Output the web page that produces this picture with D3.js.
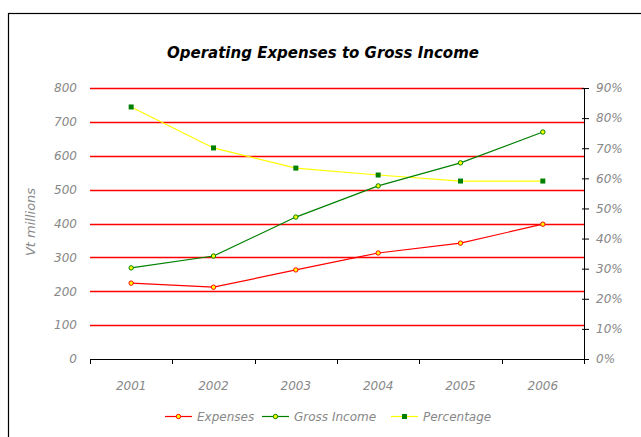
<!DOCTYPE html>
<html>
<head>
<meta charset="utf-8">
<script src="https://cdn.jsdelivr.net/npm/d3@7"></script>
<style>
  body { margin: 0; background: #fff; }
  svg text { font-family: "DejaVu Sans", sans-serif; font-style: italic; }
</style>
</head>
<body>
<svg id="chart" width="641" height="437"></svg>
<script>
var years = ["2001", "2002", "2003", "2004", "2005", "2006"]
var expenses = [224, 212, 263, 313, 342, 398]
var grossIncome = [269, 304, 419, 511, 579, 670]
var percentage = [0.837, 0.701, 0.634, 0.611, 0.591, 0.591]
var leftTicks = [0, 100, 200, 300, 400, 500, 600, 700, 800]
var rightTicks = [0, 0.1, 0.2, 0.3, 0.4, 0.5, 0.6, 0.7, 0.8, 0.9]

var svg = d3.select("#chart")
var plotLeft = 90, plotRight = 584, plotTop = 88, plotBottom = 359

// outer frame (runs off the right and bottom edge)
svg.append("rect")
    .attr("x", 8.5).attr("y", 13.5)
    .attr("width", 700).attr("height", 500)
    .attr("fill", "none").attr("stroke", "#000").attr("stroke-width", 1.2)

svg.append("text")
    .attr("x", 323).attr("y", 58)
    .attr("text-anchor", "middle")
    .attr("font-size", 15).attr("font-weight", "bold")
    .attr("fill", "#000")
    .text("Operating Expenses to Gross Income")

var x = d3.scaleBand().domain(years).range([plotLeft, plotRight])
var y = d3.scaleLinear().domain([0, 800]).range([plotBottom, plotTop])
var y2 = d3.scaleLinear().domain([0, 0.9]).range([plotBottom, plotTop])

// gridlines
svg.append("g").selectAll("line")
    .data(leftTicks.filter(function(d) { return d > 0 }))
    .enter().append("line")
    .attr("x1", plotLeft).attr("x2", plotRight)
    .attr("y1", function(d) { return Math.round(y(d)) + 0.5 })
    .attr("y2", function(d) { return Math.round(y(d)) + 0.5 })
    .attr("stroke", "#ff0000").attr("stroke-width", 1.4)

// left axis labels only
var yAxis = d3.axisLeft(y).tickValues(leftTicks).tickSize(0).tickPadding(13)
var gy = svg.append("g").attr("transform", "translate(" + plotLeft + ",0)").call(yAxis)
gy.select(".domain").remove()
gy.selectAll("text").attr("fill", "#888").attr("font-size", 12)
gy.attr("font-family", null)

// right axis
var y2Axis = d3.axisRight(y2).tickValues(rightTicks).tickSize(5).tickPadding(7)
    .tickFormat(d3.format(".0%"))
var gy2 = svg.append("g").attr("transform", "translate(" + plotRight + ",0)").call(y2Axis)
gy2.select(".domain").attr("stroke", "#000").attr("d", "M0.5," + plotTop + "V" + plotBottom)
gy2.selectAll(".tick line").attr("x1", -2).attr("stroke", "#000")
gy2.selectAll("text").attr("fill", "#888").attr("font-size", 12)
gy2.attr("font-family", null)

// bottom axis with ticks at category boundaries
var gx = svg.append("g").attr("transform", "translate(0," + plotBottom + ")")
gx.append("line").attr("x1", plotLeft).attr("x2", plotRight + 1)
    .attr("y1", 0.5).attr("y2", 0.5).attr("stroke", "#000")
var bounds = years.map(function(d) { return x(d) }).concat([plotRight])
gx.selectAll(".bt").data(bounds).enter().append("line")
    .attr("x1", function(d) { return Math.round(d) + 0.5 })
    .attr("x2", function(d) { return Math.round(d) + 0.5 })
    .attr("y1", 0).attr("y2", 5).attr("stroke", "#000")
gx.selectAll(".xl").data(years).enter().append("text")
    .attr("x", function(d) { return x(d) + x.bandwidth() / 2 })
    .attr("y", 31)
    .attr("text-anchor", "middle")
    .attr("font-size", 12).attr("fill", "#888")
    .text(function(d) { return d })

svg.append("text")
    .attr("transform", "translate(35,222) rotate(-90)")
    .attr("text-anchor", "middle")
    .attr("font-size", 13).attr("fill", "#888")
    .text("Vt millions")

var cx = function(d, i) { return x(years[i]) + x.bandwidth() / 2 }

function drawLine(values, scale, color) {
    svg.append("path")
        .datum(values)
        .attr("fill", "none").attr("stroke", color).attr("stroke-width", 1.2)
        .attr("d", d3.line().x(cx).y(function(d) { return scale(d) }))
}

drawLine(percentage, y2, "#ffff00")
drawLine(grossIncome, y, "#008000")
drawLine(expenses, y, "#ff0000")

svg.append("g").selectAll("rect").data(percentage).enter().append("rect")
    .attr("x", function(d, i) { return cx(d, i) - 2.5 })
    .attr("y", function(d) { return y2(d) - 2.5 })
    .attr("width", 5).attr("height", 5).attr("fill", "#008000")

svg.append("g").selectAll("circle").data(grossIncome).enter().append("circle")
    .attr("cx", cx).attr("cy", function(d) { return y(d) })
    .attr("r", 2.2).attr("fill", "#ffff00").attr("stroke", "#008000").attr("stroke-width", 1)

svg.append("g").selectAll("circle").data(expenses).enter().append("circle")
    .attr("cx", cx).attr("cy", function(d) { return y(d) })
    .attr("r", 2.2).attr("fill", "#ffff00").attr("stroke", "#ff0000").attr("stroke-width", 1)

// legend
var legend = [
    { name: "Expenses", color: "#ff0000", marker: "circle", x: 165 },
    { name: "Gross Income", color: "#008000", marker: "circle", x: 262 },
    { name: "Percentage", color: "#ffff00", marker: "square", x: 391 }
]
var ly = 416
legend.forEach(function(l) {
    var g = svg.append("g")
    g.append("line").attr("x1", l.x).attr("x2", l.x + 27)
        .attr("y1", ly + 0.5).attr("y2", ly + 0.5)
        .attr("stroke", l.color).attr("stroke-width", 1.2)
    if (l.marker == "circle") {
        g.append("circle").attr("cx", l.x + 13.5).attr("cy", ly + 0.5).attr("r", 2.2)
            .attr("fill", "#ffff00").attr("stroke", l.color)
    } else {
        g.append("rect").attr("x", l.x + 11).attr("y", ly - 2).attr("width", 5).attr("height", 5)
            .attr("fill", "#008000")
    }
    g.append("text").attr("x", l.x + 32).attr("y", ly + 5)
        .attr("font-size", 12).attr("fill", "#888")
        .text(l.name)
})
</script>
</body>
</html>
